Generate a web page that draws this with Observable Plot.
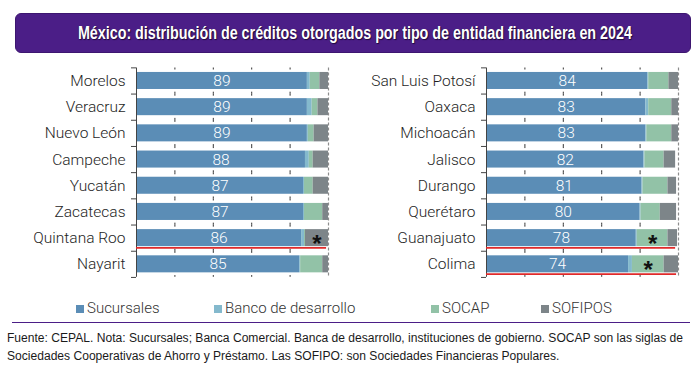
<!DOCTYPE html>
<html>
<head>
<meta charset="utf-8">
<script src="https://cdn.jsdelivr.net/npm/d3@7"></script>
<script src="https://cdn.jsdelivr.net/npm/@observablehq/plot@0.6"></script>
<style>
  html, body { margin: 0; padding: 0; background: #fff; }
  #page { position: relative; width: 700px; height: 367px; overflow: hidden; background: #fff; }
  #title {
    position: absolute; left: 15px; top: 13px; width: 676px; height: 40px;
    background: #4b1e87; border-radius: 6px; box-sizing: border-box; border: 1px solid #3d1670;
    color: #fff; font-family: "Liberation Sans", Arial, sans-serif;
    font-weight: bold; font-size: 17.5px; line-height: 38px; text-align: center; white-space: nowrap;
    text-shadow: 1px 1px 1px #1d0a3a, -0.5px -0.5px 0.5px #1d0a3a;
  }
  #title span { display: inline-block; transform-origin: 50% 50%; }
  .panel { position: absolute; top: 60px; }
  #legend { position: absolute; top: 298px; left: 0; width: 700px; height: 20px;
    font-family: "Roboto", "Noto Sans", sans-serif; font-weight: 300; font-size: 15px; color: #333; }
  .item { position: absolute; top: 0; white-space: nowrap; line-height: 20px; }
  .sw { display: inline-block; width: 8px; height: 8px; margin-right: 3px; vertical-align: 0px; }
  #rule { position: absolute; left: 12px; top: 322px; width: 678px; height: 0; border-top: 1.5px solid #4b1e87; }
  #footer { position: absolute; left: 7px; top: 329px; width: 690px;
    font-family: "Liberation Sans", Arial, sans-serif;
    font-size: 12.5px; line-height: 18px; color: #1a1a1a; white-space: nowrap; }
  #footer span { display: inline-block; transform-origin: 0 50%; }
</style>
</head>
<body>
<div id="page">
  <div id="title"></div>
  <div id="left" class="panel" style="left:0px"></div>
  <div id="right" class="panel" style="left:350px"></div>
  <div id="legend"></div>
  <div id="rule"></div>
  <div id="footer"></div>
</div>
<script>
// ---- Data ----
const titulo = "México: distribución de créditos otorgados por tipo de entidad financiera en 2024";
const estados = ["Morelos", "Veracruz", "Nuevo León", "Campeche", "Yucatán", "Zacatecas", "Quintana Roo", "Nayarit",
                 "San Luis Potosí", "Oaxaca", "Michoacán", "Jalisco", "Durango", "Querétaro", "Guanajuato", "Colima"];
const sucursales      = [89, 89, 89, 88, 87, 87, 86, 85, 84, 83, 83, 82, 81, 80, 78, 74];
const bancoDesarrollo = [1.5, 2.5, 0.5, 2, 0.5, 0.5, 1.5, 0.5, 0.5, 1.5, 0.5, 0.5, 0.5, 0.5, 0.5, 2];
const socap           = [5, 3, 3, 2, 4.5, 9.5, 0.5, 11.5, 10.5, 12, 13, 10, 13, 10, 16, 16.5];
const sofipos         = [4.5, 5.5, 7.5, 8, 8, 3, 12, 3, 5, 3.5, 3.5, 6, 4.5, 8.5, 5, 7.5];
const series = ["Sucursales", "Banco de desarrollo", "SOCAP", "SOFIPOS"];
const colores = ["#5b8db6", "#84b9cd", "#92c2a7", "#7d8589"];
const marcados = ["Quintana Roo", "Guanajuato", "Colima"];
const marcaSerie = ["SOFIPOS", "SOCAP", "SOCAP"];
const gridTicks = [20, 40, 60, 80];
const fuente = [
  "Fuente: CEPAL. Nota: Sucursales; Banca Comercial. Banca de desarrollo, instituciones de gobierno. SOCAP son las siglas de",
  "Sociedades Cooperativas de Ahorro y Préstamo. Las SOFIPO: son Sociedades Financieras Populares."
];

// ---- Build tables ----
const valores = [sucursales, bancoDesarrollo, socap, sofipos];
const largo = [];
series.forEach((s, k) => estados.forEach((e, i) => largo.push({estado: e, serie: s, valor: valores[k][i], idx: i})));
const filas = estados.map((e, i) => ({estado: e, suc: sucursales[i], total: valores.reduce((a, v) => a + v[i], 0), idx: i}));
const asteriscos = marcados.map((e, j) => {
  const i = estados.indexOf(e);
  const k = series.indexOf(marcaSerie[j]);
  let start = 0;
  for (let q = 0; q < k; q++) start += valores[q][i];
  return {estado: e, x: start + valores[k][i] / 2, idx: i};
});

// ---- Layout params ----
const H = 222, mT = 7.5, mB = 5.2, pI = 0.35, pO = 0.17;
const n = 8;
const step = (H - mT - mB) / (n - pI + 2 * pO);
const bw = step * (1 - pI);

function panel(desde) {
  const nombres = estados.slice(desde, desde + n);
  const inPanel = d => d.idx >= desde && d.idx < desde + n;
  const datos = largo.filter(inPanel);
  const fil = filas.filter(inPanel);
  const rojos = fil.filter(d => marcados.includes(d.estado));
  const ast = asteriscos.filter(inPanel);
  return Plot.plot({
    width: 350, height: H,
    marginLeft: 136, marginRight: 22, marginTop: mT, marginBottom: mB,
    x: {domain: [0, 100], axis: null},
    y: {domain: nombres, paddingInner: pI, paddingOuter: pO, round: false, label: null, tickSize: 0, tickPadding: 11},
    color: {domain: series, range: colores},
    style: {fontFamily: "Roboto, 'Noto Sans', sans-serif", fontWeight: 300, fontSize: "15.5px", color: "#1e1e1e", background: "transparent", overflow: "visible"},
    marks: [
      Plot.ruleX(gridTicks, {stroke: "#333", strokeWidth: 1, strokeDasharray: `2,${(step - 4).toFixed(3)},2,0`}),
      Plot.barX(datos, Plot.stackX({x: "valor", y: "estado", fill: "serie", order: null})),
      Plot.text(fil, {x: d => d.suc / 2, y: "estado", text: d => String(d.suc), fill: "white", fontSize: 15.5}),
      Plot.ruleX([100], {stroke: "#8c8c8c", strokeWidth: 1.2, strokeDasharray: "3,2"}),
      Plot.ruleX([0], {stroke: "#444", strokeWidth: 1}),
      Plot.ruleY(nombres, {x1: 0, x2: 0, insetLeft: -5, dy: -step / 2, stroke: "#444"}),
      Plot.ruleY(nombres.slice(-1), {x1: 0, x2: 0, insetLeft: -5, dy: step / 2, stroke: "#444"}),
      Plot.ruleY(rojos, {y: "estado", x1: 0, x2: d => d.total - 1, dy: bw / 2 + 1.3, stroke: "#e02a2a", strokeWidth: 1.8}),
      Plot.text(ast, {x: "x", y: "estado", text: () => "*", fill: "#111", fontSize: 24, fontWeight: "bold", fontFamily: "Liberation Sans, sans-serif", dy: 6})
    ]
  });
}

document.getElementById("left").appendChild(panel(0));
document.getElementById("right").appendChild(panel(8));

// title, scaled horizontally to the condensed width of the reference
const tspan = document.createElement("span");
tspan.textContent = titulo;
document.getElementById("title").appendChild(tspan);
const tw = tspan.getBoundingClientRect().width;
tspan.style.transform = `scaleX(${554 / tw})`;

// legend
const legendX = [76, 214, 431, 541];
const leg = document.getElementById("legend");
series.forEach((s, k) => {
  const it = document.createElement("div");
  it.className = "item";
  it.style.left = legendX[k] + "px";
  const sw = document.createElement("span");
  sw.className = "sw";
  sw.style.background = colores[k];
  it.appendChild(sw);
  it.appendChild(document.createTextNode(s));
  leg.appendChild(it);
});

// footer, condensed to the reference width
const foot = document.getElementById("footer");
const spans = fuente.map(t => {
  const d = document.createElement("div");
  const s = document.createElement("span");
  s.textContent = t;
  d.appendChild(s);
  foot.appendChild(d);
  return s;
});
const fw = spans[0].getBoundingClientRect().width;
const fk = 676 / fw;
spans.forEach(s => { s.style.transform = `scaleX(${fk})`; });
</script>
</body>
</html>
